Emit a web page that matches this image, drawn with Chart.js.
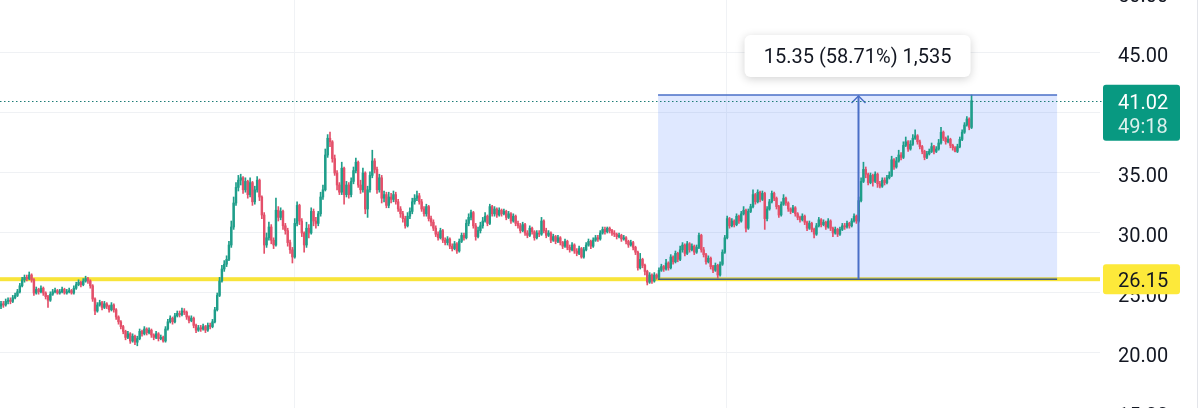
<!DOCTYPE html>
<html>
<head>
<meta charset="utf-8">
<style>
  html, body { margin: 0; padding: 0; background: #fff; overflow: hidden; }
  #wrap { position: relative; width: 1200px; height: 408px; overflow: hidden; }
  #chart { position: absolute; left: 0; top: -16px; }
</style>
</head>
<body>
<div id="wrap"><canvas id="chart" width="1200" height="440"></canvas></div>
<script src="https://cdn.jsdelivr.net/npm/chart.js"></script>
<script>
  // candles, oldest first (one bar per index)
  const opens = [
    23.9, 24.1, 24.0, 24.3, 24.4, 24.3, 24.6, 24.8, 25.1, 25.6,
    26.1, 26.3, 26.2, 26.5, 26.1, 25.0, 25.3, 25.1, 25.4, 25.0,
    24.7, 24.4, 24.9, 25.1, 25.2, 25.0, 25.1, 25.3, 25.0, 25.1,
    25.2, 25.0, 25.4, 25.7, 25.9, 25.7, 26.0, 26.2, 26.0, 25.6,
    24.5, 23.5, 24.0, 24.2, 23.8, 24.1, 23.9, 23.6, 24.0, 23.6,
    23.0, 22.6, 22.2, 21.8, 21.3, 21.6, 21.0, 21.4, 20.9, 21.2,
    21.8, 21.6, 22.0, 21.7, 21.9, 21.5, 21.3, 21.6, 21.2, 21.3,
    21.0, 22.0, 22.6, 22.9, 22.6, 23.1, 23.3, 23.2, 23.5, 23.4,
    23.0, 22.7, 22.9, 22.3, 21.9, 22.1, 22.0, 22.2, 21.9, 22.3,
    22.2, 22.6, 23.6, 24.8, 26.0, 27.0, 27.4, 27.8, 29.0, 30.5,
    32.5, 33.8, 34.4, 34.6, 33.6, 34.3, 33.2, 34.2, 32.6, 33.6,
    34.4, 33.0, 31.5, 29.0, 29.6, 30.5, 29.4, 29.0, 31.9, 31.3,
    31.8, 30.6, 30.2, 29.2, 28.6, 28.0, 30.8, 32.3, 31.0, 30.0,
    29.0, 30.4, 30.0, 31.8, 31.0, 30.8, 31.6, 33.0, 33.6, 36.5,
    37.9, 37.6, 36.2, 35.0, 34.0, 33.4, 35.4, 33.2, 34.0, 33.2,
    34.3, 35.2, 35.9, 34.0, 33.6, 35.0, 32.0, 33.6, 34.8, 36.0,
    35.3, 33.6, 34.6, 32.9, 33.2, 32.3, 33.0, 32.8, 33.2, 32.6,
    32.0, 31.6, 31.2, 30.6, 31.4, 31.8, 32.6, 32.9, 33.1, 32.6,
    32.0, 31.6, 32.2, 31.2, 30.9, 30.4, 29.9, 29.6, 30.2, 29.4,
    29.2, 29.5, 28.9, 28.7, 29.1, 28.5, 29.3, 29.8, 29.6, 30.8,
    31.3, 31.7, 30.6, 29.7, 30.2, 30.6, 31.0, 31.4, 30.8, 32.2,
    31.6, 32.0, 31.5, 31.9, 31.6, 31.8, 31.3, 31.6, 31.0, 31.4,
    30.8, 30.6, 30.2, 30.7, 30.0, 29.8, 30.4, 30.1, 29.6, 30.0,
    29.9, 31.0, 30.2, 29.8, 30.0, 29.4, 29.7, 29.3, 29.6, 29.2,
    28.9, 29.3, 28.8, 28.6, 29.0, 28.5, 28.3, 28.7, 28.0, 28.6,
    29.0, 29.3, 28.9, 29.4, 29.6, 29.5, 30.0, 30.3, 30.1, 30.4,
    30.2, 30.0, 29.9, 29.7, 29.8, 29.5, 29.6, 29.3, 29.0, 29.2,
    28.8, 28.4, 27.1, 27.8, 27.3, 26.8, 25.9, 26.5, 26.0, 26.5,
    26.3, 26.9, 27.2, 27.0, 27.5, 27.1, 28.0, 27.6, 28.3, 27.8,
    28.6, 29.0, 28.3, 29.1, 28.6, 28.9, 28.4, 28.8, 29.8, 28.6,
    28.2, 27.6, 27.9, 27.2, 26.9, 27.3, 26.5, 27.4, 28.4, 29.6,
    31.2, 30.6, 31.0, 30.7, 31.4, 31.0, 31.6, 31.9, 30.4, 31.8,
    32.2, 33.2, 32.6, 33.4, 32.8, 33.3, 31.2, 32.0, 32.6, 33.3,
    32.9, 32.2, 31.5, 32.4, 32.9, 32.5, 32.0, 31.8, 32.1, 31.6,
    31.3, 31.1, 31.4, 30.9, 30.4, 30.8, 30.3, 29.9, 30.6, 31.1,
    30.7, 30.9, 30.5, 31.0, 30.4, 30.0, 30.3, 29.9, 30.3, 30.6,
    30.5, 30.8, 30.6, 31.0, 31.4, 31.0, 32.7, 34.3, 35.3, 34.9,
    34.2, 34.8, 34.3, 34.9, 34.1, 33.9, 34.4, 34.2, 34.6, 34.8,
    36.1, 35.5, 36.0, 36.5, 36.3, 37.3, 37.6, 37.0, 37.4, 37.9,
    38.1, 37.6, 37.2, 36.8, 36.3, 36.6, 36.8, 37.2, 36.8, 37.0,
    37.5, 38.4, 37.9, 37.6, 37.8, 37.3, 37.1, 36.8, 37.2, 37.8,
    38.4, 39.0, 39.5, 38.8
  ];
  const highs = [
    24.3, 24.3, 24.5, 24.6, 24.6, 24.8, 25.0, 25.3, 25.8, 26.3,
    26.5, 26.5, 26.75, 26.6, 26.2, 25.5, 25.4, 25.6, 25.5, 25.1,
    24.8, 25.1, 25.3, 25.4, 25.3, 25.3, 25.5, 25.4, 25.3, 25.4,
    25.3, 25.6, 25.9, 26.1, 26.0, 26.2, 26.4, 26.3, 26.1, 25.7,
    24.6, 24.2, 24.4, 24.3, 24.3, 24.2, 24.0, 24.2, 24.1, 23.7,
    23.1, 22.7, 22.3, 21.9, 21.8, 21.7, 21.6, 21.5, 21.4, 22.0,
    21.9, 22.2, 22.1, 22.1, 22.0, 21.6, 21.8, 21.7, 21.5, 21.4,
    22.2, 22.8, 23.1, 23.0, 23.3, 23.5, 23.5, 23.75, 23.7, 23.5,
    23.1, 23.1, 23.0, 22.4, 22.3, 22.3, 22.4, 22.3, 22.5, 22.5,
    22.8, 23.8, 25.0, 26.3, 27.3, 27.7, 28.1, 29.3, 31.0, 33.0,
    34.2, 34.8, 34.9, 34.7, 34.6, 34.4, 34.6, 34.3, 33.9, 34.7,
    34.5, 33.1, 31.7, 30.0, 30.9, 30.7, 29.6, 32.9, 32.2, 32.1,
    31.9, 30.8, 30.4, 29.4, 28.8, 31.2, 32.6, 32.4, 31.2, 30.1,
    30.9, 30.7, 32.1, 32.0, 31.3, 31.8, 33.4, 34.0, 37.0, 38.2,
    38.4, 37.7, 36.5, 35.2, 34.2, 35.9, 35.5, 34.3, 34.2, 34.6,
    35.5, 36.25, 36.0, 34.4, 35.4, 35.1, 33.9, 35.1, 36.9, 36.2,
    35.5, 34.9, 34.8, 33.5, 33.4, 33.4, 33.3, 33.5, 33.4, 32.8,
    32.2, 31.8, 31.4, 31.7, 32.1, 32.9, 33.2, 33.5, 33.3, 32.8,
    32.2, 32.4, 32.3, 31.4, 31.1, 30.6, 30.1, 30.4, 30.3, 29.6,
    29.7, 29.6, 29.1, 29.3, 29.2, 29.5, 30.0, 30.0, 31.1, 31.6,
    31.9, 31.8, 30.8, 30.5, 30.9, 31.3, 31.7, 31.5, 32.4, 32.3,
    32.2, 32.1, 32.1, 32.0, 32.0, 31.9, 31.8, 31.7, 31.6, 31.5,
    31.0, 30.8, 30.9, 30.8, 30.2, 30.6, 30.5, 30.2, 30.2, 30.2,
    31.3, 31.1, 30.4, 30.2, 30.1, 29.9, 29.8, 29.8, 29.7, 29.3,
    29.5, 29.4, 29.0, 29.2, 29.1, 28.7, 28.9, 28.8, 28.8, 29.2,
    29.5, 29.4, 29.6, 29.8, 29.8, 30.2, 30.5, 30.5, 30.5, 30.5,
    30.3, 30.2, 30.0, 30.0, 29.9, 29.8, 29.7, 29.4, 29.4, 29.3,
    28.9, 28.5, 28.3, 27.9, 27.4, 26.9, 26.7, 26.6, 26.7, 26.6,
    27.1, 27.4, 27.3, 27.8, 27.6, 28.2, 28.1, 28.5, 28.4, 28.9,
    29.2, 29.1, 29.3, 29.2, 29.1, 29.0, 29.0, 30.0, 29.9, 28.8,
    28.3, 28.1, 28.0, 27.3, 27.5, 27.4, 27.6, 28.6, 29.8, 31.4,
    31.3, 31.2, 31.1, 31.6, 31.5, 31.8, 32.2, 32.0, 32.0, 32.4,
    33.6, 33.3, 33.6, 33.5, 33.5, 33.4, 32.2, 32.8, 33.5, 33.4,
    33.0, 32.3, 32.6, 33.2, 33.0, 32.6, 32.1, 32.3, 32.2, 31.7,
    31.4, 31.6, 31.5, 31.0, 31.0, 30.9, 30.4, 30.8, 31.3, 31.2,
    31.1, 31.0, 31.2, 31.1, 30.5, 30.5, 30.4, 30.5, 30.8, 30.8,
    31.0, 30.9, 31.2, 31.6, 31.5, 33.0, 34.6, 35.9, 35.5, 35.0,
    35.0, 34.9, 35.1, 35.0, 34.3, 34.6, 34.6, 34.8, 35.1, 36.4,
    36.2, 36.3, 36.9, 36.7, 37.6, 38.0, 37.7, 37.7, 38.2, 38.6,
    38.2, 37.75, 37.3, 36.9, 36.8, 37.0, 37.5, 37.3, 37.2, 37.8,
    38.8, 38.5, 38.0, 38.1, 37.9, 37.4, 37.2, 37.4, 38.0, 38.6,
    39.2, 39.7, 39.6, 41.5
  ];
  const lows = [
    23.7, 23.8, 23.9, 24.1, 24.1, 24.2, 24.5, 24.7, 25.0, 25.5,
    25.9, 26.0, 26.1, 25.9, 24.8, 24.9, 24.9, 25.0, 24.8, 24.5,
    23.8, 24.3, 24.8, 25.0, 24.9, 24.9, 25.0, 24.9, 24.9, 25.0,
    24.9, 24.9, 25.3, 25.6, 25.5, 25.6, 25.9, 25.8, 25.4, 24.3,
    23.2, 23.4, 23.9, 23.6, 23.7, 23.7, 23.4, 23.5, 23.4, 22.8,
    22.4, 22.0, 21.6, 21.1, 21.2, 20.8, 20.9, 20.7, 20.6, 21.1,
    21.4, 21.5, 21.5, 21.6, 21.3, 21.1, 21.2, 21.0, 21.1, 20.9,
    20.9, 21.9, 22.5, 22.4, 22.5, 23.0, 23.0, 23.1, 23.2, 22.8,
    22.5, 22.6, 22.1, 21.7, 21.8, 21.8, 21.9, 21.7, 21.8, 22.0,
    22.1, 22.5, 23.5, 24.7, 25.9, 26.8, 27.2, 27.7, 28.8, 30.3,
    32.3, 33.5, 34.0, 33.3, 33.4, 32.9, 33.0, 32.3, 32.4, 33.4,
    32.7, 31.2, 28.3, 28.8, 29.4, 29.1, 28.7, 28.9, 31.0, 31.1,
    30.3, 29.9, 28.9, 28.3, 27.5, 27.9, 30.6, 30.7, 29.7, 28.4,
    28.8, 29.6, 29.9, 30.6, 30.4, 30.6, 31.4, 32.8, 33.5, 36.3,
    37.2, 35.9, 34.8, 33.6, 33.2, 33.2, 32.4, 33.0, 32.9, 33.0,
    34.1, 35.0, 33.8, 33.3, 33.4, 31.6, 31.3, 33.4, 34.6, 35.0,
    33.3, 33.4, 32.5, 32.6, 32.1, 32.1, 32.5, 32.6, 32.4, 31.8,
    31.3, 30.9, 30.4, 30.5, 31.2, 31.6, 32.4, 32.7, 32.4, 31.8,
    31.4, 31.4, 31.0, 30.6, 30.2, 29.7, 29.4, 29.5, 29.2, 29.0,
    29.0, 28.7, 28.5, 28.6, 28.3, 28.4, 29.2, 29.4, 29.5, 30.6,
    31.1, 30.4, 29.4, 29.6, 30.0, 30.4, 30.9, 30.6, 30.7, 31.4,
    31.4, 31.3, 31.4, 31.4, 31.5, 31.1, 31.2, 30.8, 30.9, 30.6,
    30.4, 30.0, 30.1, 29.8, 29.6, 29.7, 29.9, 29.4, 29.5, 29.7,
    29.8, 30.0, 29.6, 29.7, 29.2, 29.3, 29.1, 29.2, 29.0, 28.7,
    28.8, 28.6, 28.4, 28.5, 28.3, 28.1, 28.2, 27.9, 27.9, 28.5,
    28.9, 28.7, 28.8, 29.3, 29.3, 29.4, 29.9, 29.9, 30.0, 30.0,
    29.8, 29.7, 29.5, 29.6, 29.3, 29.4, 29.1, 28.8, 28.9, 28.6,
    28.2, 26.9, 27.0, 27.1, 26.5, 25.67, 25.8, 25.8, 25.9, 26.15,
    26.2, 26.8, 26.8, 26.9, 26.9, 27.0, 27.4, 27.5, 27.6, 27.7,
    28.4, 28.1, 28.2, 28.4, 28.5, 28.2, 28.3, 28.7, 28.4, 28.0,
    27.4, 27.5, 27.0, 26.7, 26.8, 26.25, 26.4, 27.3, 28.3, 29.5,
    30.4, 30.5, 30.5, 30.6, 30.8, 30.9, 31.5, 30.1, 30.3, 31.7,
    32.1, 32.4, 32.5, 32.6, 32.7, 30.3, 31.0, 31.9, 32.5, 32.7,
    32.0, 31.3, 31.4, 32.3, 32.3, 31.8, 31.6, 31.7, 31.4, 31.1,
    30.9, 31.0, 30.7, 30.2, 30.3, 30.1, 29.6, 29.8, 30.5, 30.5,
    30.6, 30.3, 30.4, 30.2, 29.7, 29.9, 29.7, 29.8, 30.2, 30.3,
    30.4, 30.4, 30.5, 30.9, 30.8, 30.9, 32.6, 34.2, 34.6, 34.0,
    34.1, 33.9, 34.2, 33.8, 33.75, 33.8, 34.0, 34.1, 34.5, 34.7,
    35.3, 35.4, 35.9, 36.1, 36.2, 37.2, 36.8, 36.9, 37.3, 37.8,
    37.4, 37.0, 36.6, 36.1, 36.2, 36.5, 36.7, 36.6, 36.7, 36.9,
    37.4, 37.7, 37.4, 37.5, 37.1, 36.9, 36.75, 36.7, 37.1, 37.7,
    38.3, 38.9, 38.6, 38.7
  ];
  const closes = [
    24.1, 24.0, 24.3, 24.4, 24.3, 24.6, 24.8, 25.1, 25.6, 26.1,
    26.3, 26.2, 26.5, 26.1, 25.0, 25.3, 25.1, 25.4, 25.0, 24.7,
    24.4, 24.9, 25.1, 25.2, 25.0, 25.1, 25.3, 25.0, 25.1, 25.2,
    25.0, 25.4, 25.7, 25.9, 25.7, 26.0, 26.2, 26.0, 25.6, 24.5,
    23.5, 24.0, 24.2, 23.8, 24.1, 23.9, 23.6, 24.0, 23.6, 23.0,
    22.6, 22.2, 21.8, 21.3, 21.6, 21.0, 21.4, 20.9, 21.2, 21.8,
    21.6, 22.0, 21.7, 21.9, 21.5, 21.3, 21.6, 21.2, 21.3, 21.0,
    22.0, 22.6, 22.9, 22.6, 23.1, 23.3, 23.2, 23.5, 23.4, 23.0,
    22.7, 22.9, 22.3, 21.9, 22.1, 22.0, 22.2, 21.9, 22.3, 22.2,
    22.6, 23.6, 24.8, 26.0, 27.0, 27.4, 27.8, 29.0, 30.5, 32.5,
    33.8, 34.4, 34.6, 33.6, 34.3, 33.2, 34.2, 32.6, 33.6, 34.4,
    33.0, 31.5, 29.0, 29.6, 30.5, 29.4, 29.0, 31.9, 31.3, 31.8,
    30.6, 30.2, 29.2, 28.6, 28.0, 30.8, 32.3, 31.0, 30.0, 29.0,
    30.4, 30.0, 31.8, 31.0, 30.8, 31.6, 33.0, 33.6, 36.5, 37.9,
    37.6, 36.2, 35.0, 34.0, 33.4, 35.4, 33.2, 34.0, 33.2, 34.3,
    35.2, 35.9, 34.0, 33.6, 35.0, 32.0, 33.6, 34.8, 36.0, 35.3,
    33.6, 34.6, 32.9, 33.2, 32.3, 33.0, 32.8, 33.2, 32.6, 32.0,
    31.6, 31.2, 30.6, 31.4, 31.8, 32.6, 32.9, 33.1, 32.6, 32.0,
    31.6, 32.2, 31.2, 30.9, 30.4, 29.9, 29.6, 30.2, 29.4, 29.2,
    29.5, 28.9, 28.7, 29.1, 28.5, 29.3, 29.8, 29.6, 30.8, 31.3,
    31.7, 30.6, 29.7, 30.2, 30.6, 31.0, 31.4, 30.8, 32.2, 31.6,
    32.0, 31.5, 31.9, 31.6, 31.8, 31.3, 31.6, 31.0, 31.4, 30.8,
    30.6, 30.2, 30.7, 30.0, 29.8, 30.4, 30.1, 29.6, 30.0, 29.9,
    31.0, 30.2, 29.8, 30.0, 29.4, 29.7, 29.3, 29.6, 29.2, 28.9,
    29.3, 28.8, 28.6, 29.0, 28.5, 28.3, 28.7, 28.0, 28.6, 29.0,
    29.3, 28.9, 29.4, 29.6, 29.5, 30.0, 30.3, 30.1, 30.4, 30.2,
    30.0, 29.9, 29.7, 29.8, 29.5, 29.6, 29.3, 29.0, 29.2, 28.8,
    28.4, 27.1, 27.8, 27.3, 26.8, 25.9, 26.5, 26.0, 26.5, 26.3,
    26.9, 27.2, 27.0, 27.5, 27.1, 28.0, 27.6, 28.3, 27.8, 28.6,
    29.0, 28.3, 29.1, 28.6, 28.9, 28.4, 28.8, 29.8, 28.6, 28.2,
    27.6, 27.9, 27.2, 26.9, 27.3, 26.5, 27.4, 28.4, 29.6, 31.2,
    30.6, 31.0, 30.7, 31.4, 31.0, 31.6, 31.9, 30.4, 31.8, 32.2,
    33.2, 32.6, 33.4, 32.8, 33.3, 31.2, 32.0, 32.6, 33.3, 32.9,
    32.2, 31.5, 32.4, 32.9, 32.5, 32.0, 31.8, 32.1, 31.6, 31.3,
    31.1, 31.4, 30.9, 30.4, 30.8, 30.3, 29.9, 30.6, 31.1, 30.7,
    30.9, 30.5, 31.0, 30.4, 30.0, 30.3, 29.9, 30.3, 30.6, 30.5,
    30.8, 30.6, 31.0, 31.4, 31.0, 32.7, 34.3, 35.3, 34.9, 34.2,
    34.8, 34.3, 34.9, 34.1, 33.9, 34.4, 34.2, 34.6, 34.8, 36.1,
    35.5, 36.0, 36.5, 36.3, 37.3, 37.6, 37.0, 37.4, 37.9, 38.1,
    37.6, 37.2, 36.8, 36.3, 36.6, 36.8, 37.2, 36.8, 37.0, 37.5,
    38.4, 37.9, 37.6, 37.8, 37.3, 37.1, 36.8, 37.2, 37.8, 38.4,
    39.0, 39.5, 38.8, 41.02
  ];

  // annotations
  const supportLevel = 26.15;
  const measureFrom = { bar: 279.6, price: 26.15 };
  const measureTo = { bar: 449.4, price: 41.5 };
  const measureText = "15.35 (58.71%) 1,535";
  const lastPrice = closes[closes.length - 1];
  const countdown = "49:18";
  const timeGridBars = [125.1, 308.9];

  const upColor = "#1f9e8a";
  const downColor = "#e4506a";
  const font = "Roboto";

  const candleColors = closes.map((c, i) => (c >= opens[i] ? upColor : downColor));

  const overlay = {
    id: "overlay",
    beforeDatasetsDraw(chart) {
      const { ctx, chartArea: a, scales: { x, y } } = chart;
      ctx.save();
      // yellow horizontal level
      const sy = y.getPixelForValue(supportLevel);
      ctx.fillStyle = "#f8e43a";
      ctx.fillRect(a.left, sy - 2, a.right - a.left, 4);
      // measure box fill
      const x0 = x.getPixelForValue(measureFrom.bar);
      const x1 = x.getPixelForValue(measureTo.bar);
      const yb = y.getPixelForValue(measureFrom.price);
      const yt = y.getPixelForValue(measureTo.price);
      ctx.fillStyle = "rgba(41, 98, 255, 0.15)";
      ctx.fillRect(x0, yt, x1 - x0, yb - yt);
      ctx.restore();
    },
    afterDatasetsDraw(chart) {
      const { ctx, chartArea: a, scales: { x, y } } = chart;
      const x0 = x.getPixelForValue(measureFrom.bar);
      const x1 = x.getPixelForValue(measureTo.bar);
      const yb = y.getPixelForValue(measureFrom.price);
      const yt = y.getPixelForValue(measureTo.price);
      const xm = Math.round((x0 + x1) / 2) + 0.5;
      ctx.save();
      ctx.lineWidth = 1.5;
      ctx.strokeStyle = "#4a6fc7";
      ctx.beginPath();
      ctx.moveTo(x0, yt); ctx.lineTo(x1, yt);
      ctx.stroke();
      ctx.strokeStyle = "#3f5b86";
      ctx.beginPath();
      ctx.moveTo(x0, yb); ctx.lineTo(x1, yb);
      ctx.stroke();
      // arrow
      ctx.strokeStyle = "#4a6fc7";
      ctx.lineWidth = 2;
      ctx.beginPath();
      ctx.moveTo(xm, yb); ctx.lineTo(xm, yt + 1);
      ctx.stroke();
      ctx.lineWidth = 1.5;
      ctx.beginPath();
      ctx.moveTo(xm - 7, yt + 8); ctx.lineTo(xm, yt + 1); ctx.lineTo(xm + 7, yt + 8);
      ctx.stroke();
      // dotted last price line
      const py = Math.round(y.getPixelForValue(lastPrice)) + 0.5;
      ctx.strokeStyle = "#1d7c76";
      ctx.lineWidth = 1;
      ctx.setLineDash([1.5, 2.5]);
      ctx.beginPath();
      ctx.moveTo(a.left, py); ctx.lineTo(a.right + 3, py);
      ctx.stroke();
      ctx.restore();
    },
    afterDraw(chart) {
      const { ctx, chartArea: a, scales: { x, y } } = chart;
      ctx.save();
      const lx = a.right + 3, lw = 77, tx = a.right + 18;
      ctx.textBaseline = "middle";
      ctx.font = "20px " + font;
      // last price label
      const py = y.getPixelForValue(lastPrice);
      ctx.fillStyle = "#089981";
      ctx.beginPath();
      ctx.roundRect(lx, py - 16, lw, 56, 3);
      ctx.fill();
      ctx.fillStyle = "#ffffff";
      ctx.fillText(lastPrice.toFixed(2), tx, py + 3);
      ctx.fillStyle = "rgba(255,255,255,0.85)";
      ctx.fillText(countdown, tx, py + 27);
      // support label
      const sy = y.getPixelForValue(supportLevel);
      ctx.fillStyle = "#fde93a";
      ctx.beginPath();
      ctx.roundRect(lx, sy - 15, lw, 30, 3);
      ctx.fill();
      ctx.fillStyle = "#131722";
      ctx.fillText(supportLevel.toFixed(2), tx, sy + 3);
      // measure label
      const x0 = x.getPixelForValue(measureFrom.bar);
      const x1 = x.getPixelForValue(measureTo.bar);
      const yt = y.getPixelForValue(measureTo.price);
      const cx = (x0 + x1) / 2;
      ctx.save();
      ctx.shadowColor = "rgba(0,0,0,0.18)";
      ctx.shadowBlur = 10;
      ctx.shadowOffsetY = 2;
      ctx.fillStyle = "#ffffff";
      ctx.beginPath();
      ctx.roundRect(cx - 113, yt - 60, 226, 42, 6);
      ctx.fill();
      ctx.restore();
      ctx.fillStyle = "#131722";
      ctx.textAlign = "center";
      ctx.fillText(measureText, cx, yt - 37);
      // right border
      ctx.strokeStyle = "#e3e5ea";
      ctx.lineWidth = 1;
      ctx.beginPath();
      ctx.moveTo(1197.5, 0); ctx.lineTo(1197.5, chart.height);
      ctx.stroke();
      ctx.restore();
    }
  };

  new Chart(document.getElementById("chart"), {
    type: "bar",
    data: {
      datasets: [
        {
          label: "wick",
          data: closes.map((c, i) => ({ x: i, y: [lows[i], highs[i]] })),
          backgroundColor: candleColors,
          barThickness: 1,
          grouped: false,
        },
        {
          label: "body",
          data: closes.map((c, i) => ({ x: i, y: [opens[i], c] })),
          backgroundColor: candleColors,
          barThickness: 1.8,
          minBarLength: 1,
          grouped: false,
        },
      ],
    },
    options: {
      responsive: false,
      animation: false,
      layout: { padding: 0 },
      plugins: { legend: { display: false }, tooltip: { enabled: false } },
      scales: {
        x: {
          type: "linear",
          min: -0.4255,
          max: 467.66,
          offset: false,
          afterBuildTicks: (s) => { s.ticks = timeGridBars.map((v) => ({ value: v })); },
          afterFit: (s) => { s.height = 0; s.paddingLeft = 0; s.paddingRight = 0; },
          ticks: { display: false },
          border: { display: false },
          grid: { color: "#f0f2f5", drawTicks: false, offset: false },
        },
        y: {
          position: "right",
          min: 14.083,
          max: 50.75,
          beginAtZero: false,
          afterFit: (s) => { s.width = 100; s.paddingTop = 0; s.paddingBottom = 0; },
          ticks: {
            stepSize: 5,
            includeBounds: false,
            padding: 18,
            labelOffset: 4,
            color: "#131722",
            font: { family: font, size: 20 },
            callback: (v) => v.toFixed(2),
          },
          border: { display: false },
          grid: { color: "#eff1f4", drawTicks: false },
        },
      },
    },
    plugins: [overlay],
  });
</script>
</body>
</html>
